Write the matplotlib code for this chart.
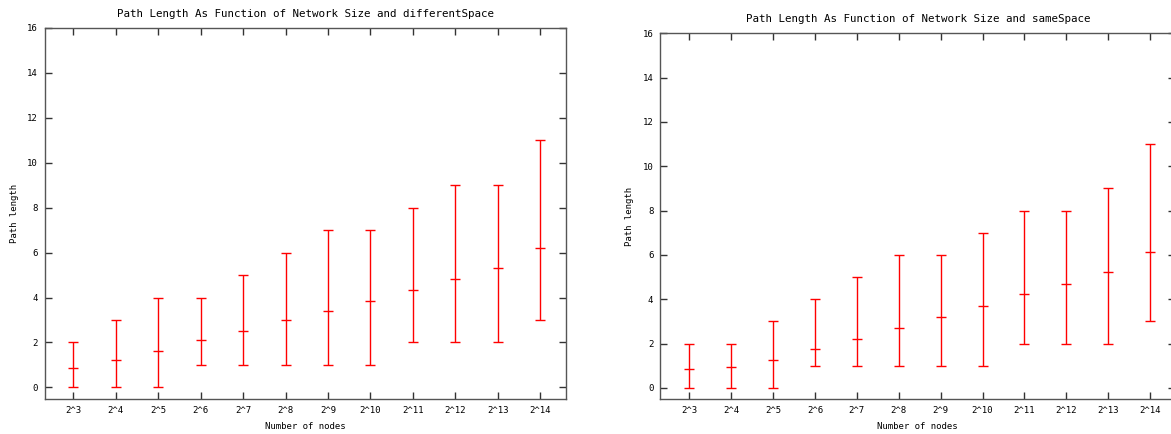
import matplotlib.pyplot as plt
import numpy as np

plt.rcParams['font.family'] = ['DejaVu Sans Mono']
plt.rcParams['font.size'] = 6.5

labels = ['2^3', '2^4', '2^5', '2^6', '2^7', '2^8', '2^9', '2^10', '2^11', '2^12', '2^13', '2^14']

# differentSpace
diff_min = [0, 0, 0, 1, 1, 1, 1, 1, 2, 2, 2, 3]
diff_max = [2, 3, 4, 4, 5, 6, 7, 7, 8, 9, 9, 11]
diff_mean = [0.88, 1.21, 1.60, 2.09, 2.49, 2.99, 3.41, 3.85, 4.34, 4.82, 5.31, 6.19]

# sameSpace
same_min = [0, 0, 0, 1, 1, 1, 1, 1, 2, 2, 2, 3]
same_max = [2, 2, 3, 4, 5, 6, 6, 7, 8, 8, 9, 11]
same_mean = [0.87, 0.96, 1.27, 1.75, 2.22, 2.71, 3.19, 3.69, 4.22, 4.67, 5.21, 6.15]

W, H = 1171, 434
fig = plt.figure(figsize=(W / 100, H / 100), dpi=100)


def panel(rect, mn, mx, mean, title, xlim):
    ax = fig.add_axes(rect)
    x = np.arange(len(labels))
    mean = np.array(mean)
    err = [mean - np.array(mn), np.array(mx) - mean]
    ax.errorbar(x, mean, yerr=err, fmt='_', color='red', ecolor='red',
                elinewidth=1, capsize=3.4, capthick=1, markersize=6.8,
                markeredgewidth=1)
    ax.set_xlim(*xlim)
    ax.set_ylim(-0.5, 16)
    ax.set_yticks(range(0, 17, 2))
    ax.set_xticks(x)
    ax.set_xticklabels(labels)
    ax.tick_params(direction='in', length=5, width=1, top=True, right=True,
                   color='#333333', pad=5)
    for s in ax.spines.values():
        s.set_color('#555555')
        s.set_linewidth(1)
    ax.set_title(title, pad=8)
    ax.set_xlabel('Number of nodes', labelpad=5)
    ax.set_ylabel('Path length', labelpad=6)
    return ax


panel([45 / W, 35.3 / H, 521 / W, 371 / H], diff_min, diff_max, diff_mean,
      'Path Length As Function of Network Size and differentSpace', (-0.67, 11.61))
panel([660.3 / W, 35 / H, 515 / W, 365.7 / H], same_min, same_max, same_mean,
      'Path Length As Function of Network Size and sameSpace', (-0.69, 11.6))

fig.savefig('out.png', dpi=100)
